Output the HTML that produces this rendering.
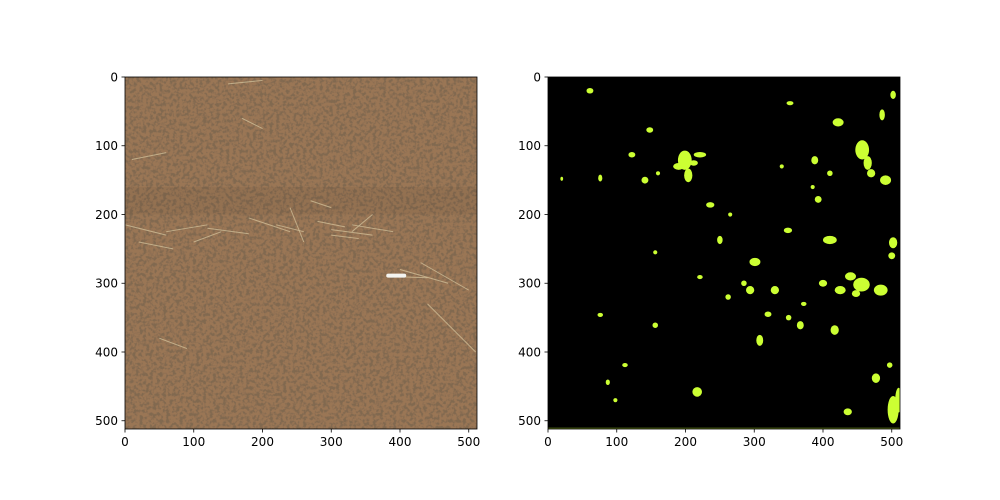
<!DOCTYPE html>
<html><head><meta charset="utf-8">
<style>
html,body{margin:0;padding:0;background:#fff;}
svg{display:block;font-family:"DejaVu Sans","Liberation Sans",sans-serif;}
</style></head>
<body>
<svg id="fig" width="1000" height="500" viewBox="0 0 1000 500" xmlns="http://www.w3.org/2000/svg">
<defs>
<filter id="soil" x="0" y="0" width="100%" height="100%">
<feTurbulence type="fractalNoise" baseFrequency="0.3" numOctaves="2" seed="4" result="n"/>
<feColorMatrix in="n" type="matrix" values="0 0 0 0 0.22  0 0 0 0 0.14  0 0 0 0 0.08  0 0 0 -4.5 2.55" result="dark"/>
<feComposite in="dark" in2="SourceGraphic" operator="atop"/>
</filter>
</defs>
<g id="left"></g>
<g id="right"></g>
</svg>
<script>
const xTicks=[0,100,200,300,400,500];
const yTicks=[0,100,200,300,400,500];
const imgSize=512;
// mask blobs: x, y, rx, ry (image pixel units)
const blobX=[61,199,221,204,122,141,76,457,491,422,502,486,410,502,456,484,425,301,294,330,367,308,417,502,477,436,217,156,236,250,388,393,349,148,352,87,112,76,497,156,221,265,340,20,510,190,212,465,470,440,400,320,285,262,350,372,448,160,98,500,385,410];
const blobY=[20,121,113,143,113,150,147,106,150,66,26,55,237,241,302,310,310,269,310,310,361,383,368,484,438,487,458,361,186,237,121,178,223,77,38,444,419,346,419,255,291,200,130,148,470,130,125,125,140,290,300,345,300,320,350,330,315,140,470,260,160,140];
const blobRX=[5,10,9,6,5,5,3,10,8,8,4,4,10,6,12,10,8,8,6,6,5,5,6,8,6,6,7,4,6,4,5,5,6,5,5,3,4,4,4,3,4,3,3,2,5,8,6,6,6,8,6,5,4,4,4,4,6,3,3,5,3,4];
const blobRY=[4,14,4,10,4,5,5,14,7,6,6,8,6,8,10,8,6,6,6,6,6,8,7,20,7,5,7,4,4,6,6,5,4,4,3,4,3,3,4,3,3,3,3,3,18,5,4,10,6,6,5,4,4,4,4,3,5,3,3,5,3,4];
// straw streaks on soil image: x1,y1,x2,y2
const strawX1=[0,60,120,180,220,240,280,300,330,20,380,400,430,440,150,50,10,330,270,100,300,170];
const strawY1=[215,225,220,205,215,190,210,222,215,240,290,280,270,330,10,380,120,225,180,240,230,60];
const strawX2=[60,120,180,240,260,260,320,360,390,70,440,470,500,510,200,90,60,360,300,140,340,200];
const strawY2=[230,215,228,225,225,240,218,230,225,250,292,300,310,400,5,395,110,200,190,225,235,75];

const S=352/imgSize;
const NS="http://www.w3.org/2000/svg";
function mk(tag,attrs,parent){const e=document.createElementNS(NS,tag);for(const k in attrs)e.setAttribute(k,attrs[k]);parent.appendChild(e);return e;}
function axes(g,x0,y0,name){
  const sx=v=>x0+v*S, sy=v=>y0+v*S;
  xTicks.forEach(v=>{
    const t=mk('line',{x1:sx(v),x2:sx(v),y1:y0+352,y2:y0+352+3.5,stroke:'#000','stroke-width':0.8},g);
    
    
    const l=mk('text',{x:sx(v),y:y0+352+17,'font-size':12,'text-anchor':'middle'},g);
    l.textContent=v;
    
    
  });
  yTicks.forEach(v=>{
    const t=mk('line',{x1:x0-3.5,x2:x0,y1:sy(v),y2:sy(v),stroke:'#000','stroke-width':0.8},g);
    
    
    const l=mk('text',{x:x0-7,y:sy(v)+4.3,'font-size':12,'text-anchor':'end'},g);
    l.textContent=v;
    
    
  });
  const f=mk('rect',{x:x0,y:y0,width:352,height:352,fill:'none',stroke:'#000','stroke-width':0.8},g);
  
  
}
// left soil image
const L=document.getElementById('left');
const lx=125,ly=77;
const soil=mk('rect',{x:lx,y:ly,width:352,height:352,fill:'#9a7655',filter:'url(#soil)'},L);


const band=mk('rect',{x:lx,y:ly+160*S,width:352,height:40*S,fill:'#3a2414',opacity:0.06},L);


strawX1.forEach((v,i)=>{
  const s=mk('line',{x1:lx+v*S,y1:ly+strawY1[i]*S,x2:lx+strawX2[i]*S,y2:ly+strawY2[i]*S,stroke:'#d8c8a0','stroke-width':1,opacity:0.7},L);
  
  
});
const root=mk('rect',{x:lx+380*S,y:ly+286*S,width:20,height:4,fill:'#f4f4f0',rx:2},L);


axes(L,lx,ly,'soil');
// right mask image
const R=document.getElementById('right');
const rx=548,ry=77;
const bg=mk('rect',{x:rx,y:ry,width:352,height:352,fill:'#000'},R);


const cg=mk('g',{},R);
const cp=mk('clipPath',{id:'rc'},R);mk('rect',{x:rx,y:ry,width:352,height:352},cp);
cg.setAttribute('clip-path','url(#rc)');
blobX.forEach((v,i)=>{
  const b=mk('ellipse',{cx:rx+v*S,cy:ry+blobY[i]*S,rx:blobRX[i]*S,ry:blobRY[i]*S,fill:'#ccff33'},cg);
  
  
});
const edge=mk('rect',{x:rx,y:ry+510*S,width:352,height:1.5,fill:'#ccff33',opacity:0.4},cg);


axes(R,rx,ry,'mask');
</script>
</body></html>
